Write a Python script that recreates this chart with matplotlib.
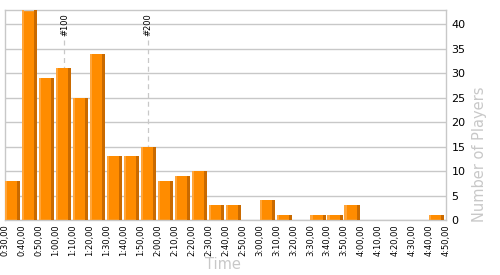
import matplotlib
matplotlib.use("Agg")
import matplotlib.pyplot as plt
import numpy as np

# ----------------------- Data --------------------------
# bin start in minutes (10 minute bins from 0:30 to 4:50)
bin_start = list(range(30, 290, 10))
players = [8, 43, 29, 31, 25, 34, 13, 13, 15, 8, 9, 10, 3, 3, 0,
           4, 1, 0, 1, 1, 3, 0, 0, 0, 0, 1]
tick_minutes = list(range(30, 300, 10))
rank_labels = ["#100", "#200"]
rank_minutes = [65.0, 114.5]

bin_w = 10

# ----------------------- Plot --------------------------
fig = plt.figure(figsize=(5, 2.75), dpi=100)
ax = fig.add_axes([0.01, 0.2, 0.882, 0.7636])

grid_col = "#c8c8c8"

# rank marker lines (behind bars)
for lab, m in zip(rank_labels, rank_minutes):
    ax.plot([m, m], [0, 37.5], color=grid_col, lw=0.9, ls=(0, (4, 3)), zorder=1)
    ax.text(m, 42.3, lab, rotation=90, ha="center", va="top", fontsize=6,
            color="black", zorder=4)

# bars: main body, light left stripe, dark right stripe
x = np.array(bin_start, dtype=float)
ax.bar(x + 0.1, players, width=bin_w * 0.9, align="edge", color="#ff8c00", zorder=2)
ax.bar(x + 0.1, players, width=1.3, align="edge", color="#ffa53a", zorder=3)
ax.bar(x + 0.1 + bin_w * 0.9 - 1.8, players, width=1.8, align="edge",
       color="#c96a00", zorder=3)

# axes
ax.set_xlim(30, 290)
ax.set_ylim(0, 42.9)
ax.set_yticks(range(0, 45, 5))
ax.yaxis.grid(True, color=grid_col, lw=1)
ax.set_axisbelow(True)
ax.yaxis.tick_right()
ax.tick_params(axis="y", length=0, labelsize=8, pad=4)
ax.set_xticks(tick_minutes)
ax.set_xticklabels(["%d:%02d,00" % (m // 60, m % 60) for m in tick_minutes],
                   rotation=90, fontsize=6)
ax.tick_params(axis="x", length=0, pad=3)
for s in ax.spines.values():
    s.set_color(grid_col)
    s.set_linewidth(1)

ax.set_xlabel("Time", color="#c8c8c8", fontsize=10.5, labelpad=0)
ax.xaxis.set_label_coords(0.495, -0.175)
ax.yaxis.set_label_position("right")
ax.set_ylabel("Number of Players", color="#c8c8c8", fontsize=10.5,
              va="center", ha="center")
ax.yaxis.set_label_coords(1.077, 0.314)

fig.savefig("out.png", dpi=100)
